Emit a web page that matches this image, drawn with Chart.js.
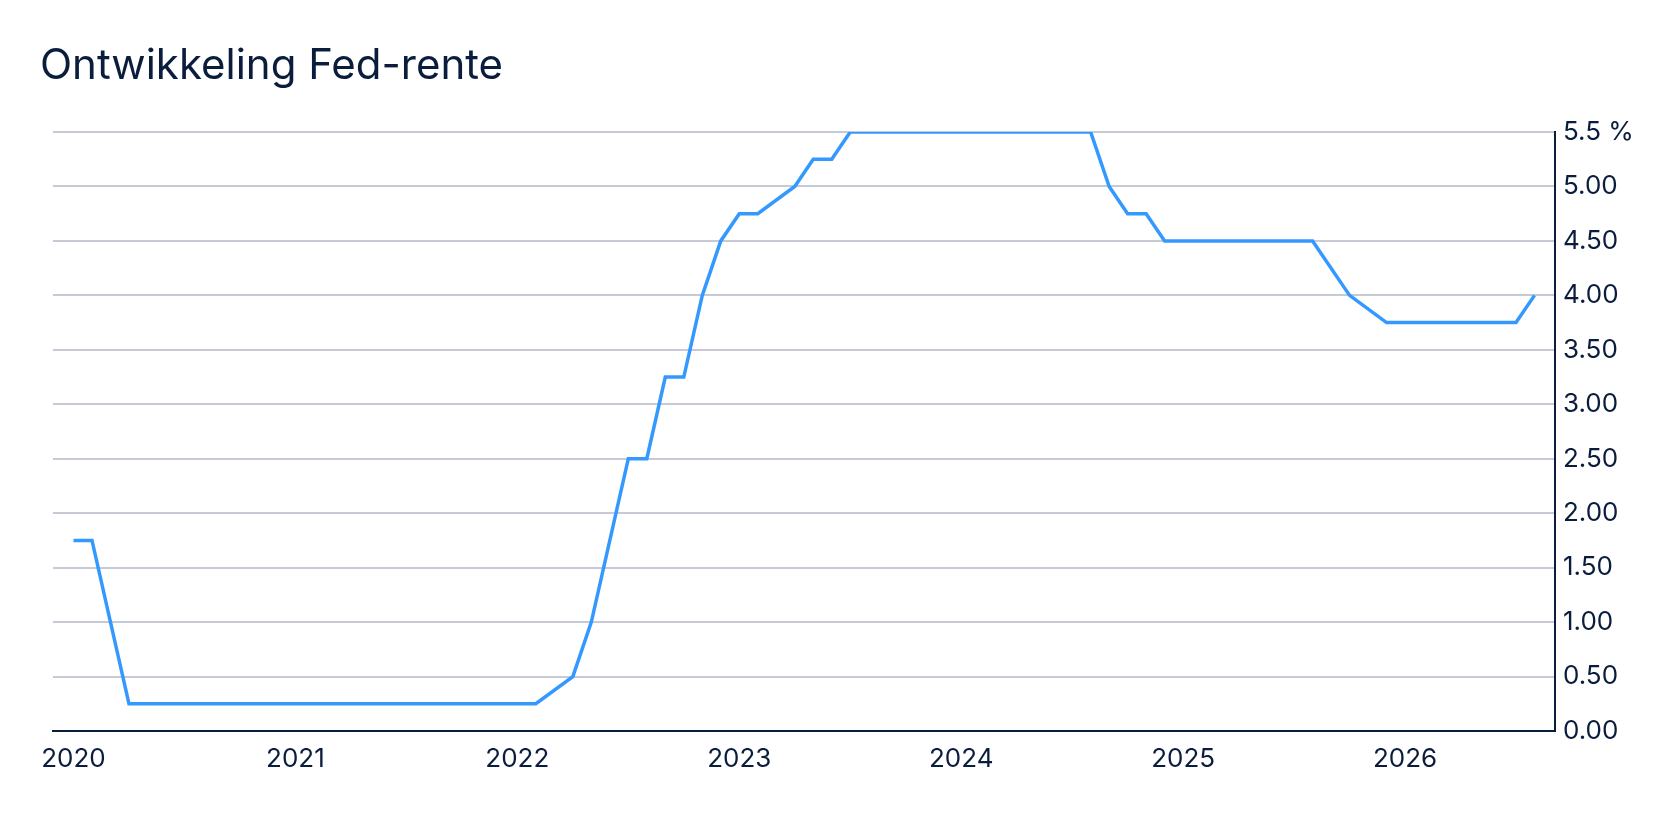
<!DOCTYPE html>
<html>
<head>
<meta charset="utf-8">
<title>Ontwikkeling Fed-rente</title>
<script src="https://cdn.jsdelivr.net/npm/chart.js@4.4.1/dist/chart.umd.min.js"></script>
<style>
  html, body { margin: 0; padding: 0; background: #ffffff; }
  #wrap { position: relative; width: 1680px; height: 818px; }
</style>
</head>
<body>
<div id="wrap"><canvas id="chart"></canvas></div>
<script>
// ---- Data (monthly, Fed funds upper bound in %) ----
const titleText = 'Ontwikkeling Fed-rente';

const months = [
  '2020-01','2020-02','2020-03','2020-04','2020-05','2020-06','2020-07','2020-08','2020-09','2020-10','2020-11','2020-12',
  '2021-01','2021-02','2021-03','2021-04','2021-05','2021-06','2021-07','2021-08','2021-09','2021-10','2021-11','2021-12',
  '2022-01','2022-02','2022-03','2022-04','2022-05','2022-06','2022-07','2022-08','2022-09','2022-10','2022-11','2022-12',
  '2023-01','2023-02','2023-03','2023-04','2023-05','2023-06','2023-07','2023-08','2023-09','2023-10','2023-11','2023-12',
  '2024-01','2024-02','2024-03','2024-04','2024-05','2024-06','2024-07','2024-08','2024-09','2024-10','2024-11','2024-12',
  '2025-01','2025-02','2025-03','2025-04','2025-05','2025-06','2025-07','2025-08','2025-09','2025-10','2025-11','2025-12',
  '2026-01','2026-02','2026-03','2026-04','2026-05','2026-06','2026-07','2026-08'
];

// null = month lies on a straight transition segment (no separate vertex in the picture)
const rates = [
  1.75, 1.75, null, 0.25, 0.25, 0.25, 0.25, 0.25, 0.25, 0.25, 0.25, 0.25,
  0.25, 0.25, 0.25, 0.25, 0.25, 0.25, 0.25, 0.25, 0.25, 0.25, 0.25, 0.25,
  0.25, 0.25, null, 0.50, 1.00, null, 2.50, 2.50, 3.25, 3.25, 4.00, 4.50,
  4.75, 4.75, null, 5.00, 5.25, 5.25, 5.50, 5.50, 5.50, 5.50, 5.50, 5.50,
  5.50, 5.50, 5.50, 5.50, 5.50, 5.50, 5.50, 5.50, 5.00, 4.75, 4.75, 4.50,
  4.50, 4.50, 4.50, 4.50, 4.50, 4.50, 4.50, 4.50, null, 4.00, null, 3.75,
  3.75, 3.75, 3.75, 3.75, 3.75, 3.75, 3.75, 4.00
];

const xTickYears = ['2020', '2021', '2022', '2023', '2024', '2025', '2026'];
const yTickLabels = ['0.00', '0.50', '1.00', '1.50', '2.00', '2.50', '3.00', '3.50', '4.00', '4.50', '5.00', '5.5 %'];

// ---- Styling ----
const NAVY = '#0b1d3d';
const BLUE = '#3399ff';
const GRID = '#c6cad4';

Chart.defaults.font.family = 'Inter, "Noto Sans", sans-serif';
Chart.defaults.color = NAVY;

const points = months.map((m, i) => ({ x: i, y: rates[i] }));

new Chart(document.getElementById('chart'), {
  type: 'line',
  data: {
    datasets: [{
      label: 'Fed-rente',
      data: points,
      borderColor: BLUE,
      backgroundColor: BLUE,
      borderWidth: 3.5,
      pointRadius: 0,
      pointHoverRadius: 0,
      tension: 0,
      spanGaps: true,
      fill: false
    }]
  },
  options: {
    responsive: true,
    maintainAspectRatio: false,
    animation: false,
    events: [],
    layout: { padding: { left: 40, right: 0, top: 0, bottom: 0 } },
    plugins: {
      legend: { display: false },
      tooltip: { enabled: false },
      title: {
        display: true,
        text: titleText,
        align: 'start',
        color: NAVY,
        font: { size: 42, weight: 'normal', lineHeight: 1.2 },
        padding: { top: 41, bottom: 40.6 }
      }
    },
    scales: {
      x: {
        type: 'linear',
        min: -1.108,
        max: 80.108,
        grid: { display: false, drawTicks: false },
        border: { display: true, color: NAVY, width: 2 },
        ticks: {
          padding: 13,
          font: { size: 26 },
          color: NAVY,
          maxRotation: 0,
          autoSkip: false,
          callback: (value) => months[value].slice(0, 4)
        },
        afterBuildTicks: (axis) => {
          axis.ticks = xTickYears.map(y => ({ value: months.indexOf(y + '-01') }));
        },
        afterFit: (axis) => {
          axis.height = 87;
          axis.paddingLeft = 53;
        }
      },
      y: {
        position: 'right',
        min: 0,
        max: 5.5,
        grid: {
          drawTicks: false,
          lineWidth: 2,
          color: (ctx) => (ctx.tick && ctx.tick.value === 0) ? 'rgba(0,0,0,0)' : GRID
        },
        border: { display: true, color: NAVY, width: 2 },
        ticks: {
          stepSize: 0.5,
          padding: 8,
          font: { size: 26 },
          color: NAVY,
          callback: (value, index) => yTickLabels[index]
        },
        afterFit: (axis) => { axis.width = 125; }
      }
    }
  }
});
</script>
</body>
</html>
